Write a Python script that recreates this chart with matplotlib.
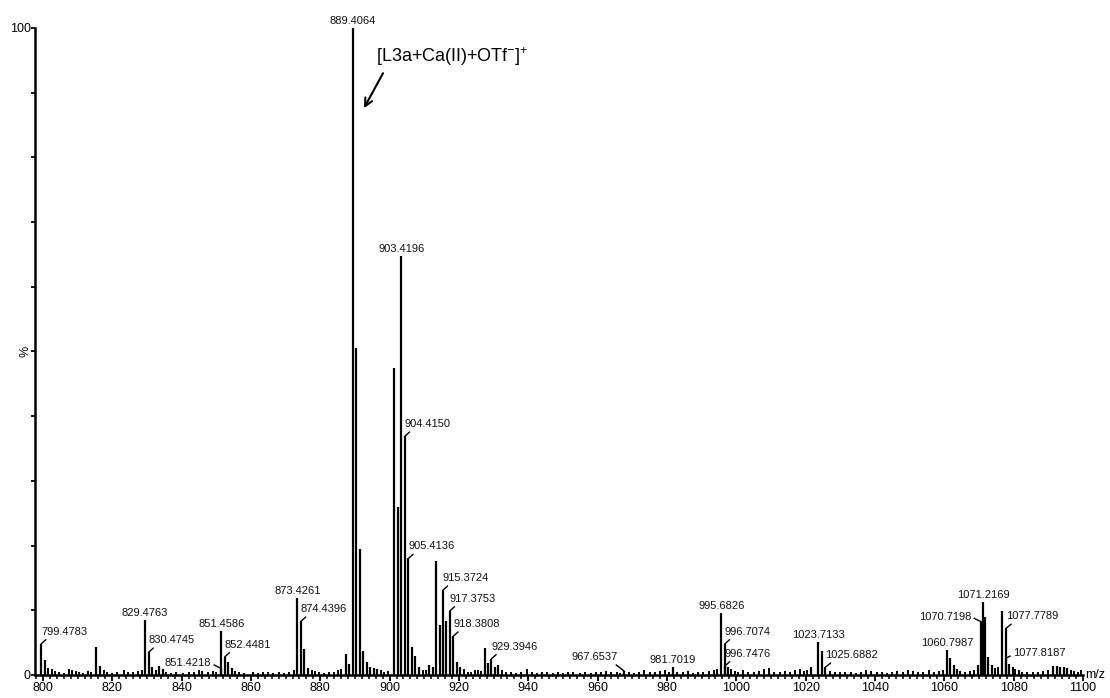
import matplotlib.pyplot as plt
import numpy as np

plt.rcParams['font.family'] = ['Liberation Sans', 'DejaVu Sans']
plt.rcParams['mathtext.fontset'] = 'custom'
plt.rcParams['mathtext.rm'] = 'Liberation Sans'
plt.rcParams['mathtext.it'] = 'Liberation Sans:italic'

# main peaks (m/z, relative intensity %)
peak_mz = [799.48, 800.48, 815.45, 816.45, 829.48, 830.47, 831.48, 833.5, 834.5,
           851.42, 851.46, 852.45, 853.45, 854.45, 873.43, 874.44, 875.44, 876.4,
           887.4, 888.4, 889.41, 890.41, 891.41, 892.4, 893.4, 894.4, 895.4, 896.4,
           901.4, 902.4, 903.42, 904.42, 905.41, 906.4, 907.4, 908.4, 911.4, 912.4,
           913.37, 914.4, 915.37, 916.4, 917.38, 918.38, 919.4, 920.4,
           927.4, 928.4, 929.39, 930.4, 931.4, 967.65, 981.7,
           995.68, 996.71, 996.75, 997.7, 1021.7, 1023.71, 1024.7, 1025.69,
           1060.8, 1061.8, 1062.8, 1063.8, 1069.7, 1070.72, 1071.22, 1071.7, 1072.7,
           1073.7, 1076.8, 1077.78, 1077.82, 1078.8, 1079.8,
           1091.5, 1092.5, 1093.5, 1094.5, 1095.5]
peak_int = [4.8, 2.3, 4.3, 1.4, 8.5, 3.5, 1.2, 1.4, 0.9,
            1.0, 6.8, 2.8, 2.0, 1.0, 11.9, 8.3, 4.0, 1.0,
            3.2, 1.7, 100, 50.5, 19.4, 3.7, 2.0, 1.2, 1.0, 0.9,
            47.5, 25.9, 64.8, 36.9, 18.0, 4.3, 2.9, 1.2, 1.5, 1.2,
            17.6, 7.7, 13.1, 8.3, 9.9, 6.0, 2.0, 1.2,
            4.2, 1.8, 2.5, 1.2, 1.6, 0.6, 1.2,
            9.6, 4.8, 1.4, 1.3, 1.2, 5.1, 3.7, 1.2,
            3.9, 2.6, 1.5, 0.9, 1.5, 8.2, 11.2, 8.9, 2.7,
            1.5, 9.9, 7.2, 2.6, 1.7, 1.3,
            1.4, 1.4, 1.3, 1.2, 1.0]

# baseline noise
noise_mz = [801.5, 802.5, 803.5, 804.5, 806.0, 807.5, 808.5, 809.5, 810.5, 811.5, 813.0, 814.0,
            817.5, 818.5, 820.0, 821.5, 823.5, 824.5, 826.0, 827.5, 828.5, 832.5, 835.5, 837.0,
            838.5, 840.5, 842.0, 843.5, 845.0, 846.0, 847.5, 849.0, 850.0, 855.5, 856.5, 858.0,
            860.5, 862.0, 863.5, 865.0, 866.5, 868.0, 869.5, 871.0, 872.5, 877.5, 878.5, 879.5,
            881.0, 882.5, 884.0, 885.0, 886.0, 897.5, 898.5, 899.5, 909.5, 910.5, 921.5, 922.5,
            923.5, 924.5, 925.5, 926.5, 932.5, 933.5, 935.0, 936.5, 938.0, 939.5, 941.0, 942.5,
            944.0, 945.5, 947.0, 948.5, 950.0, 951.5, 953.0, 955.0, 956.5, 958.0, 959.5, 961.0,
            962.5, 964.0, 965.5, 966.5, 969.0, 970.5, 972.0, 973.5, 975.0, 976.5, 978.0, 979.5,
            980.5, 983.0, 984.5, 986.0, 987.5, 989.0, 990.5, 992.0, 993.5, 994.5, 998.5, 999.5,
            1000.5, 1002.0, 1003.5, 1005.0, 1006.5, 1008.0, 1009.5, 1011.0, 1012.5, 1014.0,
            1015.5, 1017.0, 1018.5, 1019.5, 1020.5, 1027.0, 1028.5, 1030.0, 1031.5, 1033.0,
            1034.5, 1036.0, 1037.5, 1039.0, 1040.5, 1042.0, 1043.5, 1045.0, 1046.5, 1048.0,
            1049.5, 1051.0, 1052.5, 1054.0, 1055.5, 1057.0, 1058.5, 1059.5, 1064.5, 1066.0,
            1067.5, 1068.5, 1074.5, 1075.5, 1080.5, 1081.5, 1082.5, 1084.0, 1085.5, 1087.0,
            1088.5, 1090.0, 1096.5, 1097.5, 1098.5, 1099.5]
noise_int = [1.0, 0.9, 0.6, 0.4, 0.3, 0.9, 0.8, 0.6, 0.5, 0.3, 0.6, 0.5,
             0.7, 0.4, 0.3, 0.4, 0.7, 0.5, 0.4, 0.6, 0.7, 0.8, 0.5, 0.3,
             0.4, 0.3, 0.4, 0.5, 0.8, 0.6, 0.4, 0.6, 0.5, 0.6, 0.4, 0.3,
             0.4, 0.3, 0.5, 0.4, 0.3, 0.4, 0.3, 0.5, 0.7, 0.8, 0.6, 0.5,
             0.3, 0.4, 0.5, 0.7, 0.9, 0.7, 0.5, 0.6, 0.8, 0.7, 0.9, 0.5,
             0.4, 0.7, 0.8, 0.6, 0.8, 0.5, 0.4, 0.3, 0.5, 0.9, 0.4, 0.3,
             0.5, 0.4, 0.3, 0.4, 0.3, 0.5, 0.4, 0.3, 0.4, 0.3, 0.5, 0.4,
             0.6, 0.5, 0.4, 0.3, 0.5, 0.3, 0.4, 0.7, 0.5, 0.4, 0.6, 0.7,
             0.5, 0.5, 0.4, 0.6, 0.3, 0.4, 0.5, 0.6, 0.8, 0.9, 0.9, 0.6,
             0.5, 0.7, 0.4, 0.5, 0.6, 0.9, 1.0, 0.5, 0.4, 0.6,
             0.5, 0.7, 0.9, 0.6, 0.8, 0.6, 0.5, 0.4, 0.5, 0.4,
             0.3, 0.5, 0.7, 0.6, 0.5, 0.4, 0.3, 0.5, 0.6, 0.5,
             0.7, 0.6, 0.5, 0.4, 0.7, 0.5, 0.6, 0.8, 0.6, 0.5,
             0.6, 0.8, 1.0, 1.2, 0.9, 0.7, 0.5, 0.4, 0.5, 0.4,
             0.6, 0.7, 0.8, 0.6, 0.5, 0.7]

# labelled peaks
label_text = ['799.4783', '829.4763', '830.4745', '851.4586', '851.4218', '852.4481',
              '873.4261', '874.4396', '889.4064', '903.4196', '904.4150', '905.4136',
              '915.3724', '917.3753', '918.3808', '929.3946', '967.6537', '981.7019',
              '995.6826', '996.7074', '996.7476', '1023.7133', '1025.6882', '1060.7987',
              '1070.7198', '1071.2169', '1077.7789', '1077.8187']
label_int = [4.8, 8.5, 3.5, 6.8, 1.0, 2.8,
             11.9, 8.3, 100, 64.8, 36.9, 18.0,
             13.1, 9.9, 6.0, 2.5, 0.6, 1.2,
             9.6, 4.8, 1.4, 5.1, 1.2, 3.9,
             8.2, 11.2, 7.2, 2.6]
label_kind = ['r', 'c', 'r', 'c', 'l', 'r',
              'c', 'r', 'c', 'c', 'r', 'r',
              'r', 'r', 'r', 'r', 'lb', 'c',
              'c', 'r', 'r', 'c', 'r', 'c',
              'l', 'c', 'r', 'rs']

# label placement per kind: offset (px), ha, va, leader start on text box
placement = {
    'c': ((0, 2), 'center', 'bottom', None),
    'r': ((0, 7), 'left', 'bottom', (0.17, 0.0)),
    'l': ((-10, 5), 'right', 'center', (1.0, 0.5)),
    'lb': ((-6, 9), 'right', 'bottom', (0.88, 0.0)),
    'rs': ((7, 5), 'left', 'center', (0.0, 0.35)),
}

fig = plt.figure(figsize=(11.1, 6.98), dpi=100)
ax = fig.add_axes([0.0315, 0.033, 0.9441, 0.927])

ax.vlines(noise_mz, 0, noise_int, color='black', lw=1.4)
ax.vlines(peak_mz, 0, peak_int, color='black', lw=1.6)

for txt, inten, kind in zip(label_text, label_int, label_kind):
    off, ha, va, rel = placement[kind]
    arrow = None
    if rel is not None:
        arrow = dict(arrowstyle='-', lw=1.0, color='black', relpos=rel,
                     shrinkA=0, shrinkB=0)
    ax.annotate(txt, (float(txt), inten), xytext=off, textcoords='offset pixels',
                ha=ha, va=va, fontsize=8, color='#111111', arrowprops=arrow,
                annotation_clip=False)

# species annotation
ax.text(896.0, 95.5, r'[L3a+Ca(II)+OTf$^{-}$]$^{+}$', fontsize=13, ha='left', va='center')
ax.annotate('', xy=(892.6, 87.6), xytext=(898.1, 93.0),
            arrowprops=dict(arrowstyle='->', lw=1.5, color='black',
                            shrinkA=0, shrinkB=0, mutation_scale=14))

ax.set_xlim(797.7, 1100)
ax.set_ylim(0, 100)
for s in ['top', 'right']:
    ax.spines[s].set_visible(False)
for s in ['left', 'bottom']:
    ax.spines[s].set_linewidth(1.8)

ax.set_xticks(np.arange(800, 1101, 20))
ax.set_xticks(np.arange(798, 1101, 2), minor=True)
ax.tick_params(axis='x', which='major', direction='out', length=4, width=1.3,
               labelsize=9, pad=1)
ax.tick_params(axis='x', which='minor', direction='out', length=3, width=1.1)
yt = np.arange(0, 101, 10)
ax.set_yticks(yt)
ax.set_yticklabels(['0'] + [''] * 9 + ['100'])
ax.tick_params(axis='y', direction='out', length=3, width=1.3, labelsize=9, pad=0)

ax.text(-0.003, 0.5, '%', transform=ax.transAxes, rotation=90,
        ha='right', va='center', fontsize=9)
ax.text(1.002, 0.0, 'm/z', transform=ax.transAxes, ha='left', va='center', fontsize=9)

fig.savefig('out.png', dpi=100)
